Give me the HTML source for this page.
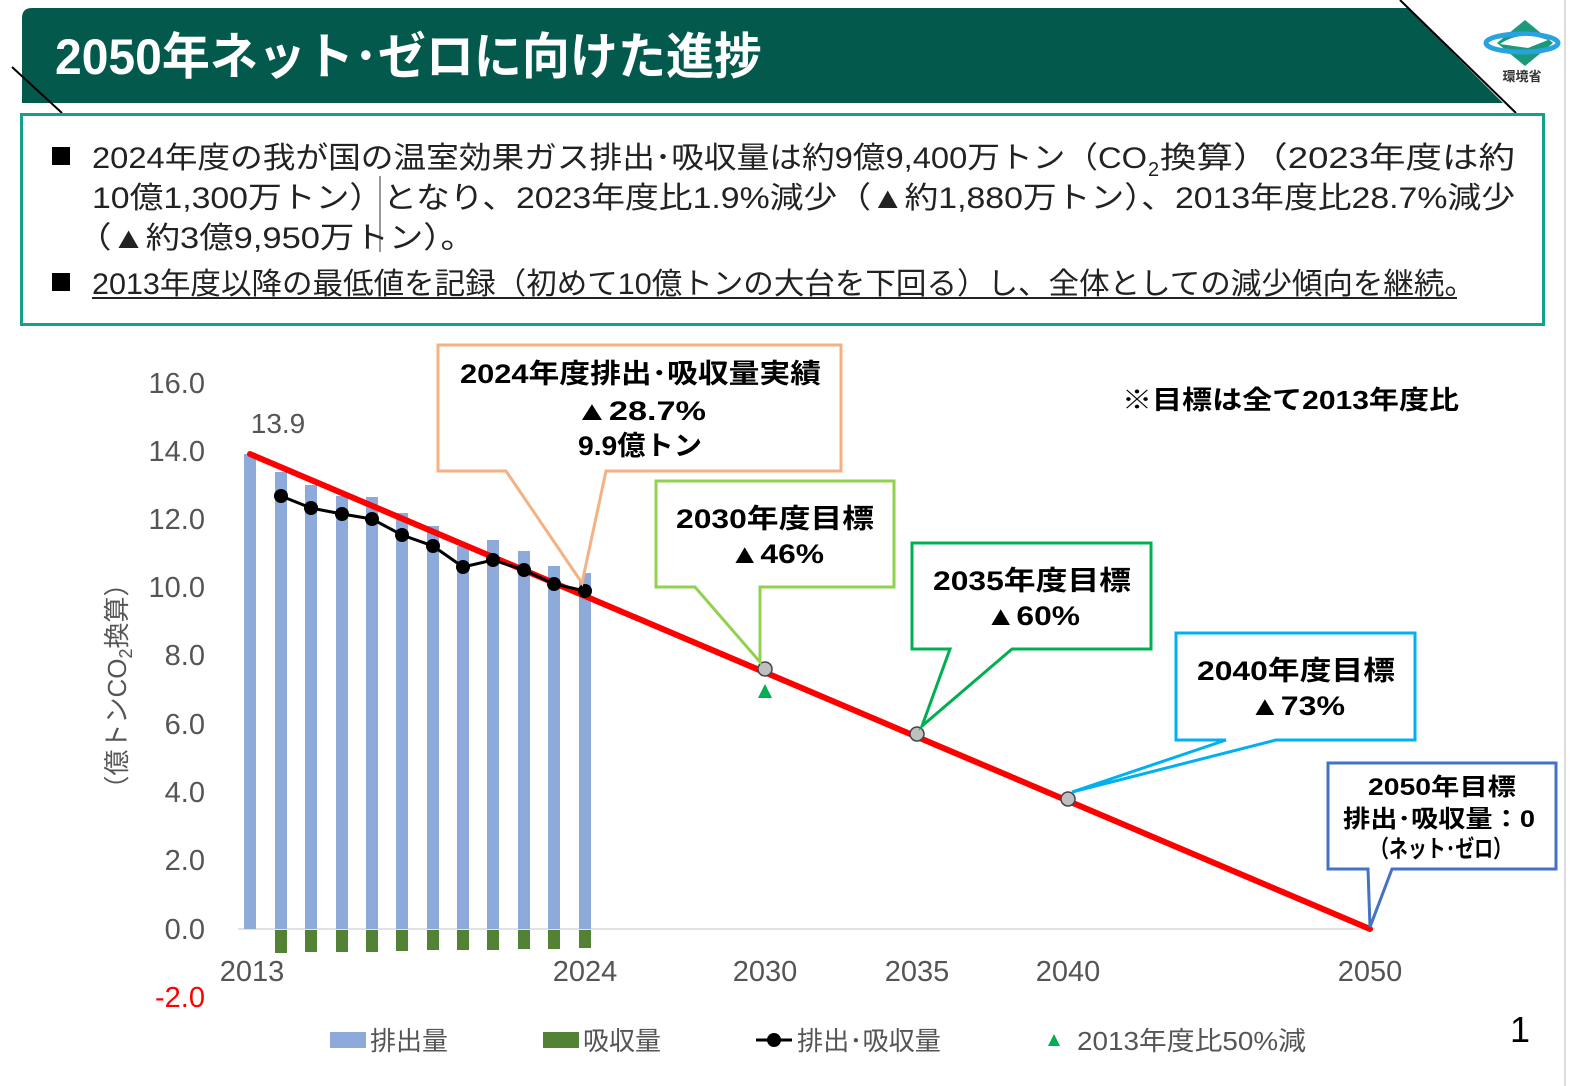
<!DOCTYPE html>
<html><head><meta charset="utf-8"><style>
body{margin:0;background:#fff;}
svg{display:block;}
text{font-family:"Liberation Sans","Noto Sans CJK JP",sans-serif;}
.b{font-weight:bold;}
</style></head><body>
<svg width="1590" height="1086" viewBox="0 0 1590 1086" xmlns="http://www.w3.org/2000/svg">
<rect width="1590" height="1086" fill="#fff"/>
<!-- header -->
<path d="M22,18 Q22,8 32,8 L1408,8 L1503,103 L22,103 Z" fill="#035a4c"/>
<line x1="1400" y1="0" x2="1516" y2="113" stroke="#000" stroke-width="2"/>
<line x1="12" y1="67" x2="62" y2="113" stroke="#000" stroke-width="2"/>
<text x="55" y="74" fill="#fff" font-size="50" class="b" textLength="707" lengthAdjust="spacingAndGlyphs">2050年ネット･ゼロに向けた進捗</text>
<!-- logo -->
<polygon points="1525,20 1553,43 1525,66 1497,43" fill="#1a9a7a"/>
<ellipse cx="1522" cy="43" rx="36" ry="9" fill="none" stroke="#29a3e0" stroke-width="5"/>
<path d="M1500,44 Q1520,30 1548,40 L1528,48 Z" fill="#fff"/>
<text x="1522" y="81" font-size="13" text-anchor="middle" fill="#333" class="b">環境省</text>
<line x1="1565" y1="0" x2="1565" y2="1086" stroke="#ddd" stroke-width="2"/>
<!-- text box -->
<rect x="21.5" y="114.5" width="1522" height="210" fill="#fff" stroke="#14a08a" stroke-width="3"/>
<g font-size="30" fill="#222">
<rect x="52" y="147" width="18" height="18" fill="#000"/>
<text x="92" y="168" textLength="1055" lengthAdjust="spacingAndGlyphs">2024年度の我が国の温室効果ガス排出･吸収量は約9億9,400万トン（CO</text>
<text x="1148" y="176" font-size="20">2</text>
<text x="1160" y="168" textLength="355" lengthAdjust="spacingAndGlyphs">換算）（2023年度は約</text>
<text x="92" y="208" textLength="1423" lengthAdjust="spacingAndGlyphs">10億1,300万トン）となり、2023年度比1.9%減少（▲約1,880万トン）、2013年度比28.7%減少</text>
<text x="77" y="248" textLength="398" lengthAdjust="spacingAndGlyphs">（▲約3億9,950万トン）。</text>
<rect x="52" y="273" width="18" height="18" fill="#000"/>
<text x="92" y="294" textLength="1383" lengthAdjust="spacingAndGlyphs">2013年度以降の最低値を記録（初めて10億トンの大台を下回る）し、全体としての減少傾向を継続。</text>
<line x1="92" y1="298" x2="1457" y2="298" stroke="#222" stroke-width="2"/>
</g>
<line x1="380" y1="176" x2="380" y2="252" stroke="#333" stroke-width="1"/>
<!-- axes -->
<g font-size="29" fill="#555" text-anchor="end">
<text x="205" y="393">16.0</text><text x="205" y="461">14.0</text><text x="205" y="529">12.0</text>
<text x="205" y="597">10.0</text><text x="205" y="665">8.0</text><text x="205" y="734">6.0</text>
<text x="205" y="802">4.0</text><text x="205" y="870">2.0</text><text x="205" y="939">0.0</text>
<text x="205" y="1007" fill="#f00">-2.0</text>
</g>
<text transform="translate(126,686) rotate(-90)" font-size="26" fill="#555" text-anchor="middle">（億トンCO<tspan font-size="18" dy="6">2</tspan><tspan dy="-6">換算）</tspan></text>
<line x1="238" y1="929" x2="1375" y2="929" stroke="#d9d9d9" stroke-width="1.5"/>
<g font-size="29" fill="#555" text-anchor="middle">
<text x="252" y="981">2013</text><text x="585" y="981">2024</text><text x="765" y="981">2030</text>
<text x="917" y="981">2035</text><text x="1068" y="981">2040</text><text x="1370" y="981">2050</text>
</g>
<text x="278" y="433" font-size="28" fill="#555" text-anchor="middle">13.9</text>
<!-- bars -->
<g fill="#8eaadb">
<rect x="244" y="454" width="12" height="475"/>
<rect x="275" y="472" width="12" height="457"/>
<rect x="305" y="485" width="12" height="444"/>
<rect x="336" y="496" width="12" height="433"/>
<rect x="366" y="497" width="12" height="432"/>
<rect x="396" y="513" width="12" height="416"/>
<rect x="427" y="526" width="12" height="403"/>
<rect x="457" y="546" width="12" height="383"/>
<rect x="487" y="540" width="12" height="389"/>
<rect x="518" y="551" width="12" height="378"/>
<rect x="548" y="566" width="12" height="363"/>
<rect x="579" y="573" width="12" height="356"/>
</g>
<g fill="#548235">
<rect x="275" y="930" width="12" height="23"/>
<rect x="305" y="930" width="12" height="22"/>
<rect x="336" y="930" width="12" height="22"/>
<rect x="366" y="930" width="12" height="22"/>
<rect x="396" y="930" width="12" height="21"/>
<rect x="427" y="930" width="12" height="20"/>
<rect x="457" y="930" width="12" height="20"/>
<rect x="487" y="930" width="12" height="20"/>
<rect x="518" y="930" width="12" height="19"/>
<rect x="548" y="930" width="12" height="19"/>
<rect x="579" y="930" width="12" height="18"/>
</g>
<!-- red line -->
<line x1="250" y1="454" x2="1370" y2="929" stroke="#f00" stroke-width="6" stroke-linecap="round"/>
<!-- net line -->
<polyline points="281,496 311,508 342,514 372,519 402,535 433,546 463,567 493,560 524,570 554,584 585,591" fill="none" stroke="#000" stroke-width="3"/>
<g fill="#000">
<circle cx="281" cy="496" r="7"/><circle cx="311" cy="508" r="7"/><circle cx="342" cy="514" r="7"/>
<circle cx="372" cy="519" r="7"/><circle cx="402" cy="535" r="7"/><circle cx="433" cy="546" r="7"/>
<circle cx="463" cy="567" r="7"/><circle cx="493" cy="560" r="7"/><circle cx="524" cy="570" r="7"/>
<circle cx="554" cy="584" r="7"/><circle cx="585" cy="591" r="7"/>
</g>
<g fill="#bfbfbf" stroke="#444" stroke-width="1.5">
<circle cx="765" cy="669" r="7"/><circle cx="917" cy="734" r="7"/><circle cx="1068" cy="799" r="7"/>
</g>
<polygon points="765,684 772,698 758,698" fill="#00b050"/>
<!-- callouts -->
<path d="M438,345 H841 V471 H606 L582,583 L506,471 H438 Z" fill="#fff" stroke="#f4b183" stroke-width="3"/>
<g font-size="27" class="b" fill="#000">
<text x="460" y="383" textLength="361" lengthAdjust="spacingAndGlyphs">2024年度排出･吸収量実績</text>
<text x="575" y="420" textLength="131" lengthAdjust="spacingAndGlyphs">▲28.7%</text>
<text x="578" y="455" textLength="124" lengthAdjust="spacingAndGlyphs">9.9億トン</text>
</g>
<path d="M656,481 H894 V587 H760 L760,662 L695,587 H656 Z" fill="#fff" stroke="#92d050" stroke-width="3"/>
<g font-size="27" class="b"><text x="676" y="528" textLength="198" lengthAdjust="spacingAndGlyphs">2030年度目標</text><text x="729" y="563" textLength="95" lengthAdjust="spacingAndGlyphs">▲46%</text></g>
<path d="M912,543 H1151 V649 H1012 L922,726 L950,649 H912 Z" fill="#fff" stroke="#00b050" stroke-width="3"/>
<g font-size="27" class="b"><text x="933" y="590" textLength="198" lengthAdjust="spacingAndGlyphs">2035年度目標</text><text x="985" y="625" textLength="95" lengthAdjust="spacingAndGlyphs">▲60%</text></g>
<path d="M1176,633 H1415 V740 H1276 L1072,792 L1226,740 H1176 Z" fill="#fff" stroke="#00b0f0" stroke-width="3"/>
<g font-size="27" class="b"><text x="1197" y="680" textLength="198" lengthAdjust="spacingAndGlyphs">2040年度目標</text><text x="1249" y="715" textLength="96" lengthAdjust="spacingAndGlyphs">▲73%</text></g>
<path d="M1328,763 H1556 V869 H1392 L1370,927 L1368,869 H1328 Z" fill="#fff" stroke="#4472c4" stroke-width="3"/>
<g font-size="24" class="b"><text x="1368" y="795" textLength="148" lengthAdjust="spacingAndGlyphs">2050年目標</text><text x="1343" y="827" textLength="192" lengthAdjust="spacingAndGlyphs">排出･吸収量：0</text><text x="1370" y="857" textLength="142" lengthAdjust="spacingAndGlyphs">（ネット･ゼロ）</text></g>
<text x="1122" y="409" font-size="26" class="b" textLength="337" lengthAdjust="spacingAndGlyphs">※目標は全て2013年度比</text>
<!-- legend -->
<g font-size="26" fill="#555">
<rect x="330" y="1032" width="36" height="16" fill="#8eaadb"/><text x="370" y="1050" textLength="78" lengthAdjust="spacingAndGlyphs">排出量</text>
<rect x="543" y="1032" width="36" height="16" fill="#548235"/><text x="583" y="1050" textLength="78" lengthAdjust="spacingAndGlyphs">吸収量</text>
<line x1="756" y1="1040" x2="792" y2="1040" stroke="#000" stroke-width="3"/><circle cx="774" cy="1040" r="7" fill="#000"/><text x="797" y="1050" textLength="144" lengthAdjust="spacingAndGlyphs">排出･吸収量</text>
<polygon points="1054,1034 1060,1046 1048,1046" fill="#00b050"/><text x="1077" y="1050" textLength="229" lengthAdjust="spacingAndGlyphs">2013年度比50%減</text>
</g>
<text x="1520" y="1042" font-size="36" fill="#000" text-anchor="middle">1</text>
</svg>
</body></html>
